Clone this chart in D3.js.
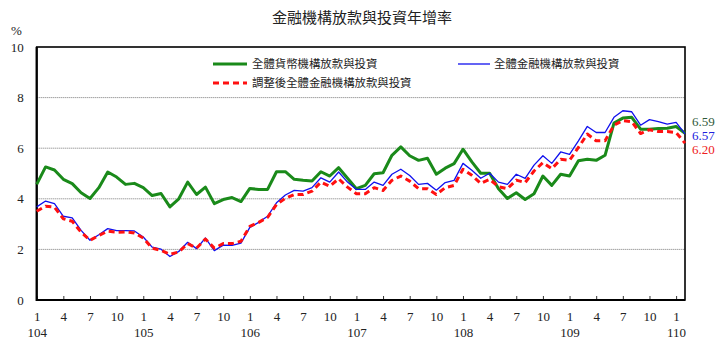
<!DOCTYPE html>
<html>
<head>
<meta charset="utf-8">
<script src="https://cdn.jsdelivr.net/npm/d3@7"></script>
<style>
  body { margin: 0; background: #fff; }
  svg { display: block; }
  .num { font-family: "Liberation Serif", "DejaVu Serif", serif; font-size: 13px; fill: #222; }
  .cjk { font-family: "Noto Sans CJK TC", sans-serif; fill: #222; }
</style>
</head>
<body>
<div id="chart"></div>
<script>
// monthly, 104/1 .. 110/2
const startYear = 104;
const months = d3.range(74);

const monetary = [4.57, 5.26, 5.14, 4.77, 4.60, 4.24, 4.01, 4.44, 5.06, 4.86, 4.57, 4.61,
  4.44, 4.13, 4.21, 3.68, 4.00, 4.66, 4.17, 4.46, 3.81, 3.97, 4.05, 3.89,
  4.41, 4.37, 4.37, 5.07, 5.07, 4.77, 4.73, 4.70, 5.07, 4.90, 5.23, 4.81,
  4.40, 4.53, 4.99, 5.03, 5.72, 6.05, 5.70, 5.52, 5.60, 4.97, 5.21, 5.39,
  5.96, 5.46, 5.01, 5.01, 4.40, 4.01, 4.24, 3.97, 4.20, 4.90, 4.53, 4.97,
  4.90, 5.50, 5.56, 5.52, 5.72, 6.99, 7.19, 7.22, 6.75, 6.75, 6.78, 6.79,
  6.86, 6.59];

const financial = [3.68, 3.91, 3.81, 3.31, 3.25, 2.75, 2.36, 2.58, 2.82, 2.74, 2.74, 2.73,
  2.49, 2.09, 2.01, 1.72, 1.92, 2.28, 2.03, 2.45, 1.95, 2.17, 2.16, 2.25,
  2.87, 3.07, 3.31, 3.84, 4.15, 4.33, 4.30, 4.44, 4.83, 4.66, 5.06, 4.66,
  4.37, 4.37, 4.66, 4.53, 4.97, 5.17, 4.92, 4.57, 4.61, 4.34, 4.64, 4.73,
  5.40, 5.13, 4.81, 5.01, 4.66, 4.57, 4.97, 4.81, 5.33, 5.70, 5.40, 5.85,
  5.76, 6.29, 6.86, 6.62, 6.62, 7.22, 7.48, 7.44, 6.91, 7.13, 7.05, 6.95,
  7.02, 6.57];

const adjusted = [3.51, 3.71, 3.67, 3.21, 3.11, 2.68, 2.36, 2.55, 2.72, 2.68, 2.69, 2.65,
  2.45, 2.05, 1.96, 1.80, 1.90, 2.23, 2.05, 2.41, 2.05, 2.23, 2.23, 2.32,
  2.91, 3.07, 3.27, 3.77, 4.02, 4.17, 4.17, 4.30, 4.66, 4.50, 4.79, 4.46,
  4.20, 4.20, 4.44, 4.33, 4.73, 4.90, 4.70, 4.40, 4.40, 4.17, 4.44, 4.53,
  5.17, 4.93, 4.61, 4.77, 4.48, 4.40, 4.74, 4.64, 5.10, 5.43, 5.19, 5.56,
  5.52, 6.03, 6.56, 6.29, 6.29, 6.91, 7.09, 7.05, 6.58, 6.73, 6.66, 6.66,
  6.62, 6.20];

const yTicks = [0, 2, 4, 6, 8, 10];
const xTicks = d3.range(0, 73, 3);

const series = [
  {name: '全體貨幣機構放款與投資', values: monetary, color: '#1a8a1a', width: 3, dash: null, labelColor: '#2f5a3a'},
  {name: '全體金融機構放款與投資', values: financial, color: '#1010ee', width: 1.3, dash: null, labelColor: '#2020dd'},
  {name: '調整後全體金融機構放款與投資', values: adjusted, color: '#ff1010', width: 3, dash: '6,4', labelColor: '#ee2020'}
];

const W = 726, H = 353;
const plotLeft = 36.7, plotRight = 685, plotTop = 47, plotBottom = 300;

const svg = d3.select('#chart').append('svg')
  .attr('width', W).attr('height', H);

const x = d3.scaleLinear().domain([0, 73]).range([plotLeft, plotRight]);
const y = d3.scaleLinear().domain([0, 10]).range([plotBottom, plotTop]);

// title and unit
svg.append('text').attr('class', 'cjk')
  .attr('x', 362).attr('y', 23)
  .attr('text-anchor', 'middle').style('font-size', '15px')
  .text('金融機構放款與投資年增率');
svg.append('text').attr('class', 'num')
  .attr('x', 11).attr('y', 35).text('%');

// gridlines
svg.append('g').selectAll('line')
  .data(yTicks.filter(d => d > 0 && d < 10))
  .join('line')
  .attr('x1', plotLeft).attr('x2', plotRight)
  .attr('y1', d => y(d)).attr('y2', d => y(d))
  .attr('stroke', '#777').attr('stroke-width', 1)
  .attr('stroke-dasharray', '1,1');

// y axis labels
const yAxis = svg.append('g')
  .attr('transform', `translate(${plotLeft},0)`)
  .call(d3.axisLeft(y).tickValues(yTicks).tickSize(0).tickPadding(13));
yAxis.select('.domain').remove();
yAxis.attr('font-family', null).attr('font-size', null);
yAxis.selectAll('text').attr('class', 'num').attr('fill', null);

// x axis with inward ticks, month + year labels
const xAxis = svg.append('g')
  .attr('transform', `translate(0,${plotBottom})`)
  .call(d3.axisBottom(x).tickValues(xTicks).tickSize(-4).tickFormat(''));
xAxis.select('.domain').remove();
xAxis.attr('font-family', null).attr('font-size', null);
xAxis.selectAll('.tick line').attr('stroke', '#333');
xAxis.selectAll('.tick').each(function(d) {
  const g = d3.select(this);
  g.append('text').attr('class', 'num')
    .attr('y', 21).attr('text-anchor', 'middle')
    .text(d % 12 + 1);
  if (d % 12 === 0) {
    g.append('text').attr('class', 'num')
      .attr('y', 37).attr('text-anchor', 'middle')
      .text(startYear + d / 12);
  }
});

// frame
svg.append('rect')
  .attr('x', plotLeft).attr('y', plotTop)
  .attr('width', plotRight - plotLeft).attr('height', plotBottom - plotTop)
  .attr('fill', 'none').attr('stroke', '#000').attr('stroke-width', 1.6);
svg.append('line').attr('x1', plotLeft).attr('x2', plotLeft).attr('y1', plotTop).attr('y2', plotBottom + 1)
  .attr('stroke', '#000').attr('stroke-width', 2.2);
svg.append('line').attr('x1', plotLeft).attr('x2', plotRight).attr('y1', plotBottom).attr('y2', plotBottom)
  .attr('stroke', '#000').attr('stroke-width', 2.2);

// lines
const line = d3.line().x((d, i) => x(months[i])).y(d => y(d));
svg.append('g').selectAll('path')
  .data(series)
  .join('path')
  .attr('d', d => line(d.values))
  .attr('fill', 'none')
  .attr('stroke', d => d.color)
  .attr('stroke-width', d => d.width)
  .attr('stroke-dasharray', d => d.dash)
  .attr('stroke-linejoin', 'round');

// legend
const legendPos = [[213, 64], [458, 64], [213, 83]];
const legend = svg.append('g').selectAll('g')
  .data(series)
  .join('g')
  .attr('transform', (d, i) => `translate(${legendPos[i][0]},${legendPos[i][1]})`);
legend.append('line')
  .attr('x1', 0).attr('x2', (d, i) => i === 1 ? 32 : 34)
  .attr('stroke', d => d.color)
  .attr('stroke-width', d => d.width)
  .attr('stroke-dasharray', d => d.dash);
legend.append('text').attr('class', 'cjk')
  .attr('x', (d, i) => i === 1 ? 36 : 39).attr('y', 4)
  .style('font-size', '11.4px')
  .text(d => d.name);

// end value labels
const endY = [122, 136, 150];
svg.append('g').selectAll('text')
  .data(series)
  .join('text')
  .attr('class', 'num')
  .attr('x', 692).attr('y', (d, i) => endY[i] + 4)
  .style('fill', d => d.labelColor)
  .text(d => d.values[d.values.length - 1].toFixed(2));
</script>
</body>
</html>
